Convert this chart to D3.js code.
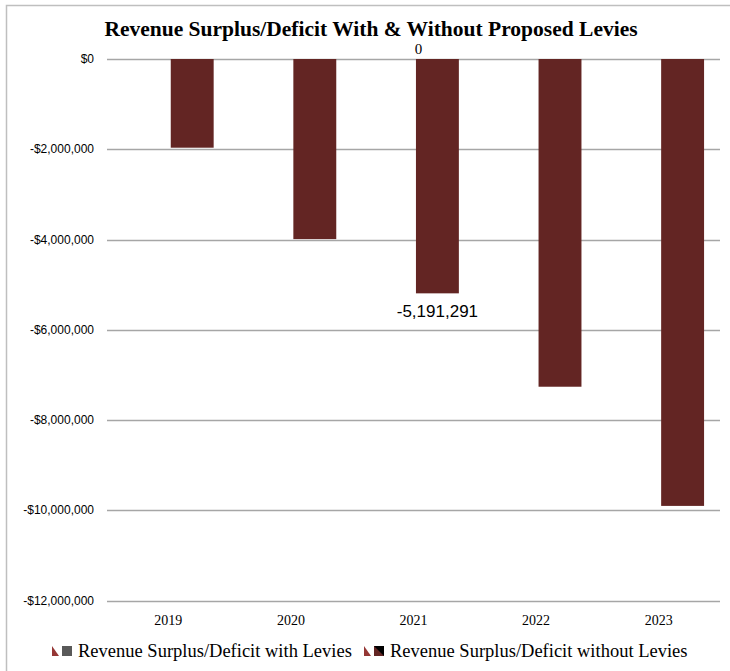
<!DOCTYPE html>
<html lang="en">
<head>
    <meta charset="UTF-8">
    <title>Revenue Surplus/Deficit With & Without Proposed Levies</title>
    <script src="https://d3js.org/d3.v7.min.js"></script>
    <style>
        body { margin: 0; background: #fff; }
        svg text { fill: #000; }
    </style>
</head>
<body>
    <svg id="chart" width="730" height="671"></svg>
    <script>
        const years = ['2019', '2020', '2021', '2022', '2023'];
        const seriesNames = ['Revenue Surplus/Deficit with Levies', 'Revenue Surplus/Deficit without Levies'];
        const withLevies = [0, 0, 0, 0, 0];
        const withoutLevies = [-1965000, -3990000, -5191291, -7260000, -9900000];
        const yTicks = [0, -2000000, -4000000, -6000000, -8000000, -10000000, -12000000];

        const svg = d3.select('#chart');
        const margin = { top: 59, right: 10, bottom: 70, left: 107 };
        const width = 730 - margin.left - margin.right;

        // outer frame
        svg.append('rect').attr('x', 6.5).attr('y', 5.5).attr('width', 740).attr('height', 700)
            .attr('fill', 'none').attr('stroke', '#bfbfbf').attr('stroke-width', 1.5);

        const g = svg.append('g').attr('transform', `translate(${margin.left},${margin.top})`);

        const x = d3.scaleBand().domain(years).range([0, width]);
        const x1 = d3.scaleBand().domain(seriesNames)
            .range([x.bandwidth() * 0.17, x.bandwidth() * 0.87]);
        const y = d3.scaleLinear().domain([0, -12000000]).range([0, 541.7]);

        // gridlines
        g.selectAll('.grid').data(yTicks).enter().append('line')
            .attr('x1', 0).attr('x2', width)
            .attr('y1', d => Math.round(y(d)) + 0.5).attr('y2', d => Math.round(y(d)) + 0.5)
            .attr('stroke', '#a6a6a6').attr('stroke-width', 1.5);

        // y labels
        const fmt = v => d3.format(',')(v).replace('\u2212', '-');
        g.selectAll('.ylab').data(yTicks).enter().append('text')
            .attr('x', -13).attr('y', d => y(d) + 4)
            .attr('text-anchor', 'end')
            .style('font-family', 'Liberation Sans, Arial, sans-serif').style('font-size', '12px')
            .text(d => d === 0 ? '$0' : '-$' + fmt(-d));

        // x labels
        g.selectAll('.xlab').data(years).enter().append('text')
            .attr('x', d => x(d) + x.bandwidth() / 2).attr('y', 566)
            .attr('text-anchor', 'middle')
            .style('font-family', 'Liberation Serif, serif').style('font-size', '14px')
            .text(d => d);

        // bars: series with levies (zero) and without levies
        const barData = [];
        years.forEach((yr, i) => {
            barData.push({ year: yr, s: seriesNames[0], v: withLevies[i] });
            barData.push({ year: yr, s: seriesNames[1], v: withoutLevies[i] });
        });
        g.selectAll('.bar').data(barData).enter().append('rect')
            .attr('x', d => x(d.year) + x1(d.s))
            .attr('width', x1.bandwidth())
            .attr('y', d => y(Math.max(0, d.v)))
            .attr('height', d => Math.abs(y(d.v) - y(0)))
            .attr('fill', d => d.s === seriesNames[1] ? '#632523' : '#7f7f7f');

        // data labels for 2021
        g.append('text')
            .attr('x', x('2021') + x.bandwidth() / 2 + 5).attr('y', -5)
            .attr('text-anchor', 'middle')
            .style('font-family', 'Liberation Serif, serif').style('font-size', '15px')
            .text(fmt(withLevies[2]));
        g.append('text')
            .attr('x', x('2021') + x1(seriesNames[1]) + x1.bandwidth() / 2).attr('y', y(withoutLevies[2]) + 24)
            .attr('text-anchor', 'middle')
            .style('font-family', 'Liberation Sans, Arial, sans-serif').style('font-size', '17px')
            .text(fmt(withoutLevies[2]));

        // title
        svg.append('text').attr('x', 371).attr('y', 36).attr('text-anchor', 'middle')
            .style('font-family', 'Liberation Serif, serif').style('font-size', '21.5px').style('font-weight', 'bold')
            .text('Revenue Surplus/Deficit With & Without Proposed Levies');

        // legend
        const legendX = [52, 364];
        const squareFill = ['#595959', '#000000'];
        const leg = svg.selectAll('.leg').data(seriesNames).enter().append('g')
            .attr('transform', (d, i) => `translate(${legendX[i]},646)`);
        leg.append('path').attr('d', 'M0,0 L7,10 L0,10 Z').attr('fill', '#953735');
        leg.append('rect').attr('x', 10).attr('y', 0).attr('width', 10).attr('height', 10)
            .attr('fill', (d, i) => squareFill[i]);
        leg.filter((d, i) => i === 1).append('path').attr('d', 'M10,0 L10,10 L20,10 Z').attr('fill', '#632523');
        leg.append('text').attr('x', 26).attr('y', 11)
            .style('font-family', 'Liberation Serif, serif').style('font-size', '18.5px')
            .text(d => d);
    </script>
</body>
</html>
